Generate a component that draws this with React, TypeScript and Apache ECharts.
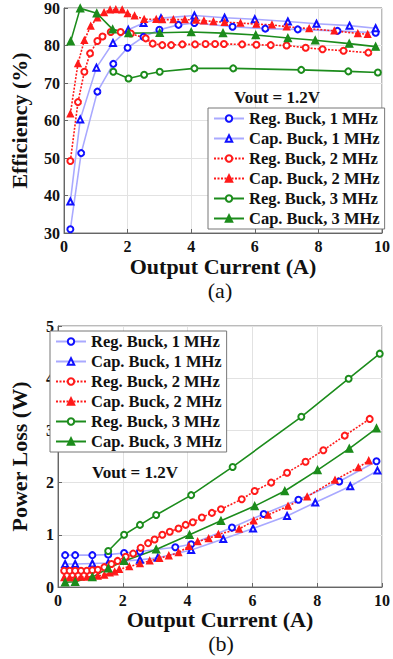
import React, { useEffect, useRef } from 'react';
import * as echarts from 'echarts';

// ---------- data ----------
const names = [
  'Reg. Buck, 1 MHz',
  'Cap. Buck, 1 MHz',
  'Reg. Buck, 2 MHz',
  'Cap. Buck, 2 MHz',
  'Reg. Buck, 3 MHz',
  'Cap. Buck, 3 MHz',
];

const xTicks = [0, 2, 4, 6, 8, 10];
const effTicks = [30, 40, 50, 60, 70, 80, 90];
const lossTicks = [0, 1, 2, 3, 4, 5];

// (a) Efficiency (%)
const effReg1 = [[0.2, 31], [0.54, 51.3], [1.05, 67.7], [1.55, 75.1], [2.0, 79.4], [2.5, 82.3], [3.0, 84.2], [3.6, 85.5], [4.1, 86], [5.3, 85], [6.33, 84.5], [7.35, 84.3], [8.6, 83.9], [9.8, 83.4]];
const effCap1 = [[0.2, 38.4], [0.51, 60.3], [1.02, 74.1], [1.54, 80.7], [2.02, 84.2], [2.5, 86], [3.05, 87.3], [4.1, 88], [5.05, 87.4], [6.0, 87], [7.04, 86.4], [7.94, 85.8], [8.98, 85.3], [9.8, 84.6]];
const effReg2 = [[0.2, 49.2], [0.44, 64.9], [0.64, 73], [0.82, 77.9], [1.05, 81.2], [1.21, 82.4], [1.47, 83.6], [1.78, 83.6], [2.1, 83.2], [2.57, 81.9], [2.79, 80.5], [3.09, 80.1], [3.37, 80.1], [3.72, 80.3], [4.12, 80.3], [4.45, 80.4], [4.75, 80.4], [5.03, 80.4], [5.6, 80.3], [6.05, 80.2], [6.5, 80.1], [7.0, 80], [7.6, 79.4], [8.13, 79], [8.79, 78.6], [9.57, 78.1]];
const effCap2 = [[0.2, 61.8], [0.44, 75.2], [0.64, 81.4], [0.84, 85.2], [1.05, 87.4], [1.26, 88.8], [1.45, 89.5], [1.63, 89.6], [1.83, 89.5], [2.0, 88.5], [2.22, 87.9], [2.52, 87], [2.9, 87], [3.09, 86.9], [3.44, 86.9], [3.8, 86.9], [4.15, 86.8], [4.4, 86.6], [4.7, 86.4], [5.05, 86.2], [5.55, 86], [6.05, 85.7], [6.54, 85.5], [7.0, 85], [7.71, 84.5], [8.5, 83.9], [9.24, 83.2], [9.55, 83]];
const effReg3 = [[1.55, 73], [2.03, 71.2], [2.52, 72.2], [3.01, 73], [4.1, 73.9], [5.32, 73.9], [7.46, 73.5], [8.94, 73.1], [9.87, 72.8]];
const effCap3 = [[0.21, 81.1], [0.51, 89.9], [1.03, 88.6], [1.53, 84.3], [2.03, 83.3], [3.01, 83.4], [4.0, 83.6], [5.0, 83.3], [6.03, 82.8], [7.04, 82], [7.9, 81.4], [8.97, 80.5], [9.8, 79.7]];

// (b) Power Loss (W)
const lossReg1 = [[0.22, 0.61], [0.53, 0.61], [1.06, 0.61], [1.55, 0.62], [2.04, 0.65], [2.53, 0.68], [3.62, 0.76], [4.11, 0.82], [5.37, 1.14], [6.35, 1.4], [7.42, 1.67], [8.68, 2.02], [9.83, 2.41]];
const lossCap1 = [[0.22, 0.44], [0.53, 0.44], [1.06, 0.45], [1.55, 0.46], [2.04, 0.5], [2.53, 0.52], [3.08, 0.56], [4.11, 0.71], [5.1, 0.92], [6.02, 1.12], [7.07, 1.36], [7.94, 1.62], [9.02, 1.93], [9.86, 2.23]];
const lossReg2 = [[0.19, 0.31], [0.36, 0.31], [0.53, 0.31], [0.71, 0.31], [0.89, 0.31], [1.06, 0.32], [1.23, 0.33], [1.43, 0.38], [1.65, 0.44], [1.84, 0.5], [2.09, 0.58], [2.32, 0.64], [2.55, 0.75], [2.78, 0.84], [2.98, 0.91], [3.22, 1.0], [3.45, 1.06], [3.72, 1.12], [3.94, 1.19], [4.16, 1.24], [4.44, 1.33], [4.75, 1.42], [5.03, 1.49], [5.67, 1.68], [6.07, 1.84], [6.58, 2.0], [7.07, 2.19], [7.64, 2.4], [8.19, 2.62], [8.85, 2.9], [9.62, 3.22]];
const lossCap2 = [[0.19, 0.18], [0.36, 0.18], [0.53, 0.18], [0.71, 0.19], [0.89, 0.19], [1.06, 0.2], [1.23, 0.21], [1.43, 0.23], [1.6, 0.27], [1.75, 0.29], [1.89, 0.34], [2.2, 0.39], [2.53, 0.45], [2.83, 0.5], [3.13, 0.55], [3.42, 0.6], [3.72, 0.66], [4.04, 0.78], [4.31, 0.87], [4.65, 0.93], [4.95, 1.01], [5.59, 1.11], [6.04, 1.27], [6.48, 1.38], [7.1, 1.55], [7.69, 1.73], [8.55, 2.05], [9.27, 2.29], [9.59, 2.42]];
const lossReg3 = [[1.55, 0.69], [2.04, 1.0], [2.53, 1.19], [3.03, 1.38], [4.11, 1.76], [5.39, 2.3], [7.51, 3.26], [8.97, 3.99], [9.93, 4.47]];
const lossCap3 = [[0.22, 0.09], [0.53, 0.1], [1.06, 0.19], [1.55, 0.36], [2.04, 0.5], [3.03, 0.72], [4.06, 1.0], [5.03, 1.27], [6.07, 1.55], [7.0, 1.84], [8.01, 2.24], [8.99, 2.65], [9.83, 3.04]];

// ---------- styles ----------
const FONT = '"Liberation Serif", "Times New Roman", serif';
const BLUE = '#1010ff';
const BLUE_LINE = '#a9a9ff';
const RED = '#ff1a1a';
const GREEN = '#1c8c1c';

const styles = [
  { symbol: 'emptyCircle', color: BLUE, line: BLUE_LINE, type: 'solid', size: 6 },
  { symbol: 'emptyTriangle', color: BLUE, line: BLUE_LINE, type: 'solid', size: 6 },
  { symbol: 'emptyCircle', color: RED, line: RED, type: [2, 1.5], size: 6 },
  { symbol: 'triangle', color: RED, line: RED, type: [2, 1.5], size: 6 },
  { symbol: 'emptyCircle', color: GREEN, line: GREEN, type: 'solid', size: 6 },
  { symbol: 'triangle', color: GREEN, line: GREEN, type: 'solid', size: 7 },
];

function mkSeries(idx: number, data: number[][], grid: number) {
  const s = styles[idx];
  return {
    type: 'line',
    name: names[idx],
    xAxisIndex: grid,
    yAxisIndex: grid,
    data,
    symbol: s.symbol,
    symbolSize: s.size,
    showSymbol: true,
    lineStyle: { color: s.line, width: 1.6, type: s.type },
    itemStyle: { color: s.color, borderColor: s.color, borderWidth: 1.4 },
    z: 3,
  };
}

function xAxis(grid: number) {
  return {
    type: 'value',
    gridIndex: grid,
    min: xTicks[0],
    max: xTicks[xTicks.length - 1],
    interval: 2,
    name: 'Output Current (A)',
    nameLocation: 'middle',
    nameGap: grid === 0 ? 22 : 21,
    nameTextStyle: { fontFamily: FONT, fontWeight: 'bold', fontSize: 22, lineHeight: 22, color: '#111' },
    axisLine: { show: true, lineStyle: { color: '#666', width: 1 } },
    axisTick: { show: true, inside: true, length: 4, lineStyle: { color: '#666' } },
    axisLabel: { fontFamily: FONT, fontWeight: 'bold', fontSize: 16, color: '#111', margin: 5 },
    splitLine: { show: true, lineStyle: { color: '#e2e2e2', width: 1 } },
  };
}

function yAxis(grid: number) {
  const ticks = grid === 0 ? effTicks : lossTicks;
  return {
    type: 'value',
    gridIndex: grid,
    min: ticks[0],
    max: ticks[ticks.length - 1],
    interval: ticks[1] - ticks[0],
    name: grid === 0 ? 'Efficiency (%)' : 'Power Loss (W)',
    nameLocation: 'middle',
    nameGap: grid === 0 ? 34 : 28,
    nameTextStyle: { fontFamily: FONT, fontWeight: 'bold', fontSize: 22, color: '#111' },
    axisLine: { show: true, lineStyle: { color: '#666', width: 1 } },
    axisTick: { show: true, inside: true, length: 4, lineStyle: { color: '#666' } },
    axisLabel: { fontFamily: FONT, fontWeight: 'bold', fontSize: 16, color: '#111', margin: 4 },
    splitLine: { show: true, lineStyle: { color: '#e2e2e2', width: 1 } },
  };
}

function legend(left: number, top: number) {
  return {
    orient: 'vertical',
    left,
    top,
    data: names,
    padding: [2, 5, 2, 5],
    itemGap: 3,
    itemWidth: 30,
    itemHeight: 8,
    backgroundColor: '#fff',
    borderColor: '#777',
    borderWidth: 1,
    selectedMode: false,
    textStyle: { fontFamily: FONT, fontWeight: 'bold', fontSize: 16.5, lineHeight: 17, color: '#111' },
    z: 10,
  };
}

export default function App() {
  const ref = useRef<HTMLDivElement>(null);
  useEffect(() => {
    document.body.style.margin = '0';
    const chart = echarts.init(ref.current!, null, { renderer: 'svg' });
    chart.setOption({
      animation: false,
      backgroundColor: '#fff',
      grid: [
        { left: 54, right: 7, top: 7, bottom: 426, show: true, borderColor: '#777', borderWidth: 1, backgroundColor: 'transparent' },
        { left: 46, right: 10, top: 326, bottom: 72, show: true, borderColor: '#777', borderWidth: 1, backgroundColor: 'transparent' },
      ],
      xAxis: [xAxis(0), xAxis(1)],
      yAxis: [yAxis(0), yAxis(1)],
      legend: [legend(208, 108), legend(50, 331)],
      series: [
        mkSeries(0, effReg1, 0),
        mkSeries(1, effCap1, 0),
        mkSeries(2, effReg2, 0),
        mkSeries(3, effCap2, 0),
        mkSeries(4, effReg3, 0),
        mkSeries(5, effCap3, 0),
        mkSeries(0, lossReg1, 1),
        mkSeries(1, lossCap1, 1),
        mkSeries(2, lossReg2, 1),
        mkSeries(3, lossCap2, 1),
        mkSeries(4, lossReg3, 1),
        mkSeries(5, lossCap3, 1),
      ],
      graphic: [
        { type: 'text', x: 277, y: 97, style: { text: 'Vout = 1.2V', font: `bold 17px ${FONT}`, fill: '#111', textAlign: 'center', textVerticalAlign: 'middle' }, z: 20 },
        { type: 'text', x: 135, y: 472, style: { text: 'Vout = 1.2V', font: `bold 17px ${FONT}`, fill: '#111', textAlign: 'center', textVerticalAlign: 'middle' }, z: 20 },
        { type: 'text', x: 220, y: 290, style: { text: '(a)', font: `22px ${FONT}`, fill: '#111', textAlign: 'center', textVerticalAlign: 'middle' }, z: 20 },
        { type: 'text', x: 221, y: 643, style: { text: '(b)', font: `22px ${FONT}`, fill: '#111', textAlign: 'center', textVerticalAlign: 'middle' }, z: 20 },
      ],
    });
    return () => chart.dispose();
  }, []);
  return <div ref={ref} style={{ width: 393, height: 659 }} />;
}
